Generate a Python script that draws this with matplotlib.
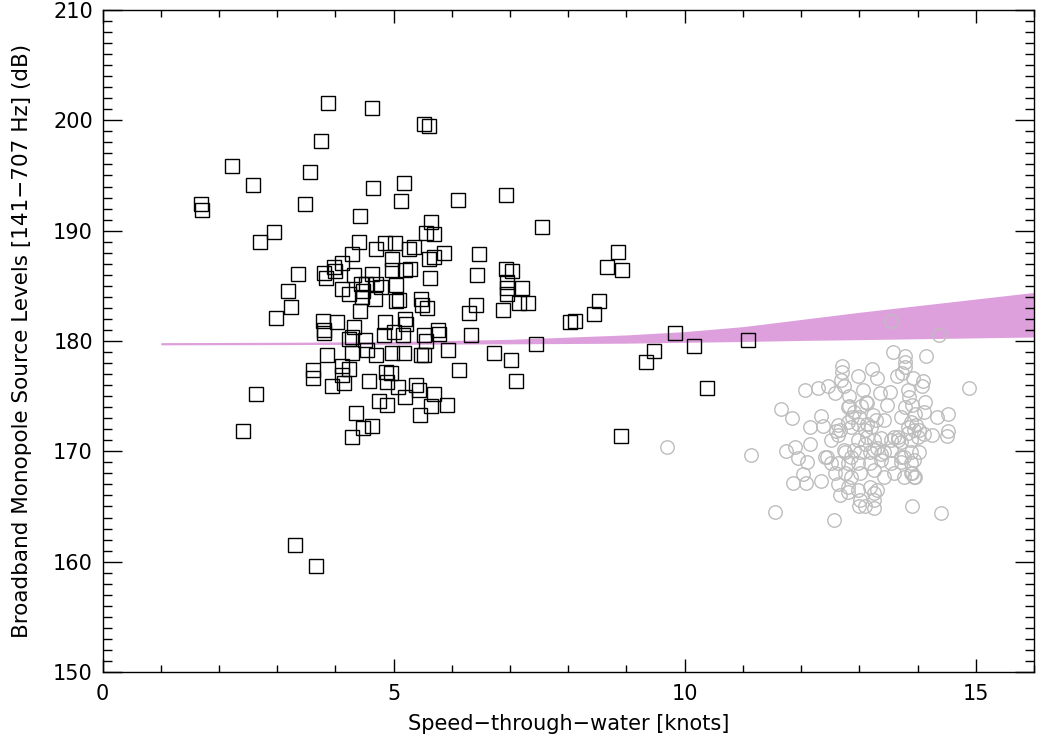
import matplotlib
matplotlib.use('Agg')
import matplotlib.pyplot as plt
from matplotlib.ticker import MultipleLocator

# slow transits (squares)
sq_speed = [
    3.88, 4.63, 3.76, 2.22, 3.56, 2.58, 4.65, 1.69, 1.71, 3.48, 4.43, 2.95, 2.70, 4.40, 4.28, 4.69,
    5.53, 5.61, 5.18, 5.12, 5.64, 5.55, 5.70, 6.10, 6.93, 7.55,
    4.85, 5.02, 5.27, 5.35, 5.86, 5.69, 5.61, 6.47, 4.12, 3.98, 4.97, 3.35, 3.81, 3.83,
    4.00, 4.32, 4.63, 4.98, 5.20, 5.29, 5.62, 6.43, 4.69, 4.78, 4.52, 4.44, 5.04, 4.12,
    4.23, 4.45, 4.68, 4.47, 5.04, 5.09, 5.47, 5.49, 5.58, 4.42, 6.42, 6.30,
    3.79, 4.02, 3.81, 3.81, 4.32, 4.29, 4.24, 4.51, 4.85, 4.84, 5.01, 5.20, 5.22, 5.16,
    5.52, 5.55, 5.77, 5.78, 6.33, 5.94, 3.19, 3.23, 2.98,
    3.86, 4.28, 4.55, 4.69, 4.97, 5.17, 5.47, 5.52, 3.62, 3.62, 4.11, 4.24, 4.12, 3.95,
    4.15, 4.57, 4.87, 4.95, 4.88, 5.08, 5.39, 5.43, 4.75, 4.88, 5.20, 5.69, 5.65, 5.92,
    6.12, 4.36, 5.45, 4.47, 4.63, 4.28,
    6.93, 7.03, 6.95, 6.95, 6.95, 7.20, 6.88, 7.15, 7.31, 8.86, 8.66, 8.93, 8.53, 8.44,
    8.03, 8.11, 7.45, 6.73, 7.02, 7.10, 9.84, 10.16, 9.48, 9.33, 10.39, 11.09, 8.90,
    3.31, 3.67, 2.41, 2.63,
]
sq_level = [
    201.6, 201.1, 198.1, 195.9, 195.3, 194.1, 193.9, 192.4, 191.9, 192.4, 191.3, 189.9, 189.0, 189.0, 187.9, 188.3,
    199.7, 199.5, 194.3, 192.7, 190.8, 189.8, 189.7, 192.8, 193.2, 190.3,
    188.9, 188.9, 188.3, 188.5, 188.0, 187.6, 187.4, 187.9, 187.1, 186.7, 187.4, 186.1, 186.2, 185.7,
    186.3, 186.0, 186.1, 186.4, 186.4, 186.5, 185.7, 186.0, 185.2, 184.9, 185.2, 185.2, 185.1, 184.7,
    184.3, 184.0, 183.8, 184.5, 183.6, 183.7, 183.8, 183.3, 183.0, 182.7, 183.3, 182.5,
    181.8, 181.7, 181.0, 180.7, 181.3, 180.4, 180.2, 180.1, 181.7, 180.5, 180.8, 182.0, 181.5, 180.5,
    180.5, 180.0, 181.0, 180.6, 180.5, 179.2, 184.5, 183.1, 182.1,
    178.7, 178.9, 179.2, 178.7, 178.9, 178.9, 178.7, 178.7, 177.4, 176.6, 177.7, 177.5, 176.9, 175.9,
    176.2, 176.4, 177.2, 177.1, 176.3, 175.8, 176.0, 175.6, 174.6, 174.2, 174.9, 175.2, 174.1, 174.2,
    177.4, 173.5, 173.3, 172.1, 172.3, 171.3,
    186.5, 186.3, 185.3, 184.8, 184.3, 184.8, 182.8, 183.4, 183.4, 188.1, 186.7, 186.4, 183.6, 182.4,
    181.7, 181.8, 179.7, 178.9, 178.3, 176.4, 180.7, 179.5, 179.1, 178.1, 175.7, 180.1, 171.4,
    161.5, 159.6, 171.8, 175.2,
]

# fast transits (circles)
ci_speed = [
    9.70, 11.14, 11.65, 11.84, 12.06, 12.29, 12.46, 12.58, 12.68, 12.70, 12.71, 11.74, 11.89, 11.94,
    12.10, 12.15, 12.15, 12.34, 12.37, 12.03, 11.86, 12.08, 12.34, 11.55, 12.56, 12.44,
    13.57, 13.78, 13.79, 13.78, 13.74, 14.15, 14.37, 14.89, 13.91, 14.41, 14.53, 14.33, 14.53, 14.51,
    14.25, 14.12, 14.08, 14.10, 13.93, 13.64, 13.31, 13.21, 12.97, 13.06, 13.35, 13.52, 13.83, 13.86,
    13.91, 13.95, 13.79, 13.48, 13.13, 12.80, 12.88, 13.00, 13.23, 13.29, 13.43, 13.71, 13.88, 13.97,
    14.03, 12.63, 12.60, 12.63, 12.51, 12.85, 13.09, 13.20, 12.97, 13.14, 13.26, 13.37, 13.60, 13.66,
    13.71, 13.83, 13.88, 12.75, 12.85, 13.02, 13.19, 13.31, 13.43, 13.54, 13.71, 13.88, 14.03, 12.41,
    12.51, 12.63, 12.80, 12.97, 13.19, 13.37, 13.54, 13.71, 13.88, 12.58, 12.75, 12.85, 13.02, 13.26,
    13.43, 13.60, 13.77, 13.91, 13.95, 12.63, 12.80, 12.97, 13.19, 13.31, 13.26, 12.66, 12.80, 13.02,
    13.26, 13.09, 13.26, 13.00, 14.11, 12.83, 12.91, 13.03, 13.11, 12.74, 12.83, 13.14, 12.97, 12.80,
    12.66, 12.74, 12.91, 13.09, 13.26, 13.37, 13.54, 13.66, 13.83, 13.94, 14.00, 14.11, 13.77, 13.94,
    13.88, 13.94, 13.54,
]
ci_level = [
    170.4, 169.7, 173.8, 173.0, 175.6, 175.7, 175.9, 175.3, 176.5, 177.2, 177.7, 170.0, 170.4, 169.4,
    169.0, 170.7, 172.2, 173.2, 172.3, 167.9, 167.1, 167.1, 167.3, 164.5, 163.8, 169.5,
    179.0, 178.6, 178.1, 177.6, 177.1, 178.6, 180.5, 175.7, 165.0, 164.4, 173.4, 173.1, 171.8, 171.4,
    171.5, 174.5, 175.9, 176.4, 176.6, 176.8, 176.6, 177.5, 176.8, 175.6, 175.3, 175.4, 175.6, 174.9,
    174.2, 173.4, 174.0, 174.2, 174.4, 174.0, 173.1, 173.1, 173.3, 172.8, 172.8, 173.1, 172.7, 172.4,
    171.9, 172.4, 171.8, 171.5, 171.0, 172.2, 171.9, 172.2, 171.0, 171.3, 171.0, 171.2, 171.3, 171.0,
    170.8, 171.7, 171.0, 169.9, 169.5, 169.9, 169.9, 170.3, 169.9, 170.1, 169.5, 169.9, 169.9, 169.5,
    168.9, 168.9, 168.9, 168.9, 168.9, 169.2, 168.9, 169.0, 168.9, 168.0, 168.0, 167.7, 168.0, 168.3,
    167.7, 168.0, 167.7, 168.0, 167.7, 167.0, 166.8, 166.5, 166.8, 166.5, 166.2, 166.0, 166.3, 165.6,
    165.6, 165.0, 164.9, 165.0, 173.6, 174.1, 173.6, 174.1, 174.5, 175.9, 175.0, 172.5, 172.5, 172.7,
    171.9, 170.1, 170.1, 170.7, 170.1, 169.8, 171.0, 171.3, 172.2, 171.9, 171.3, 171.6, 169.5, 169.2,
    168.0, 167.7, 181.8,
]

# model band
band_speed = [1, 3, 5, 7, 9, 10, 11, 12, 13, 14, 15, 16]
band_upper = [179.85, 179.88, 179.95, 180.15, 180.55, 180.85, 181.3, 181.95, 182.6, 183.2, 183.8, 184.4]
band_lower = [179.65, 179.67, 179.7, 179.74, 179.8, 179.88, 179.95, 180.05, 180.12, 180.2, 180.28, 180.36]

plt.rcParams['font.family'] = ['DejaVu Sans']

fig = plt.figure(figsize=(10.4, 7.39), dpi=100, facecolor='white')
ax = fig.add_axes([0.0986, 0.0907, 0.8956, 0.8958])

ax.fill_between(band_speed, band_lower, band_upper, color='#dda0dd', lw=0, zorder=1)
ax.plot(ci_speed, ci_level, 'o', ms=9.7, mfc='none', mec='#bdbdbd', mew=1.0, zorder=2)
ax.plot(sq_speed, sq_level, 's', ms=9.4, mfc='none', mec='black', mew=1.0, zorder=3)

ax.set_xlim(0, 16)
ax.set_ylim(150, 210)
ax.xaxis.set_major_locator(MultipleLocator(5))
ax.xaxis.set_minor_locator(MultipleLocator(1))
ax.yaxis.set_major_locator(MultipleLocator(10))
ax.yaxis.set_minor_locator(MultipleLocator(1))

ax.tick_params(axis='both', which='both', direction='in', top=True, right=True,
               color='black', width=1.0, labelsize=15)
ax.tick_params(axis='x', which='major', length=9.5, pad=9)
ax.tick_params(axis='x', which='minor', length=4.7)
ax.tick_params(axis='y', which='major', length=13.4, pad=7)
ax.tick_params(axis='y', which='minor', length=6.5)
for s in ax.spines.values():
    s.set_linewidth(1.0)

ax.set_xlabel('Speed\u2212through\u2212water [knots]', fontsize=15)
ax.set_ylabel('Broadband Monopole Source Levels [141\u2212707 Hz] (dB)', fontsize=15.5)
ax.xaxis.set_label_coords(0.5, -0.064)
ax.yaxis.set_label_coords(-0.076, 0.5)

fig.savefig('out.png', dpi=100, facecolor='white')
